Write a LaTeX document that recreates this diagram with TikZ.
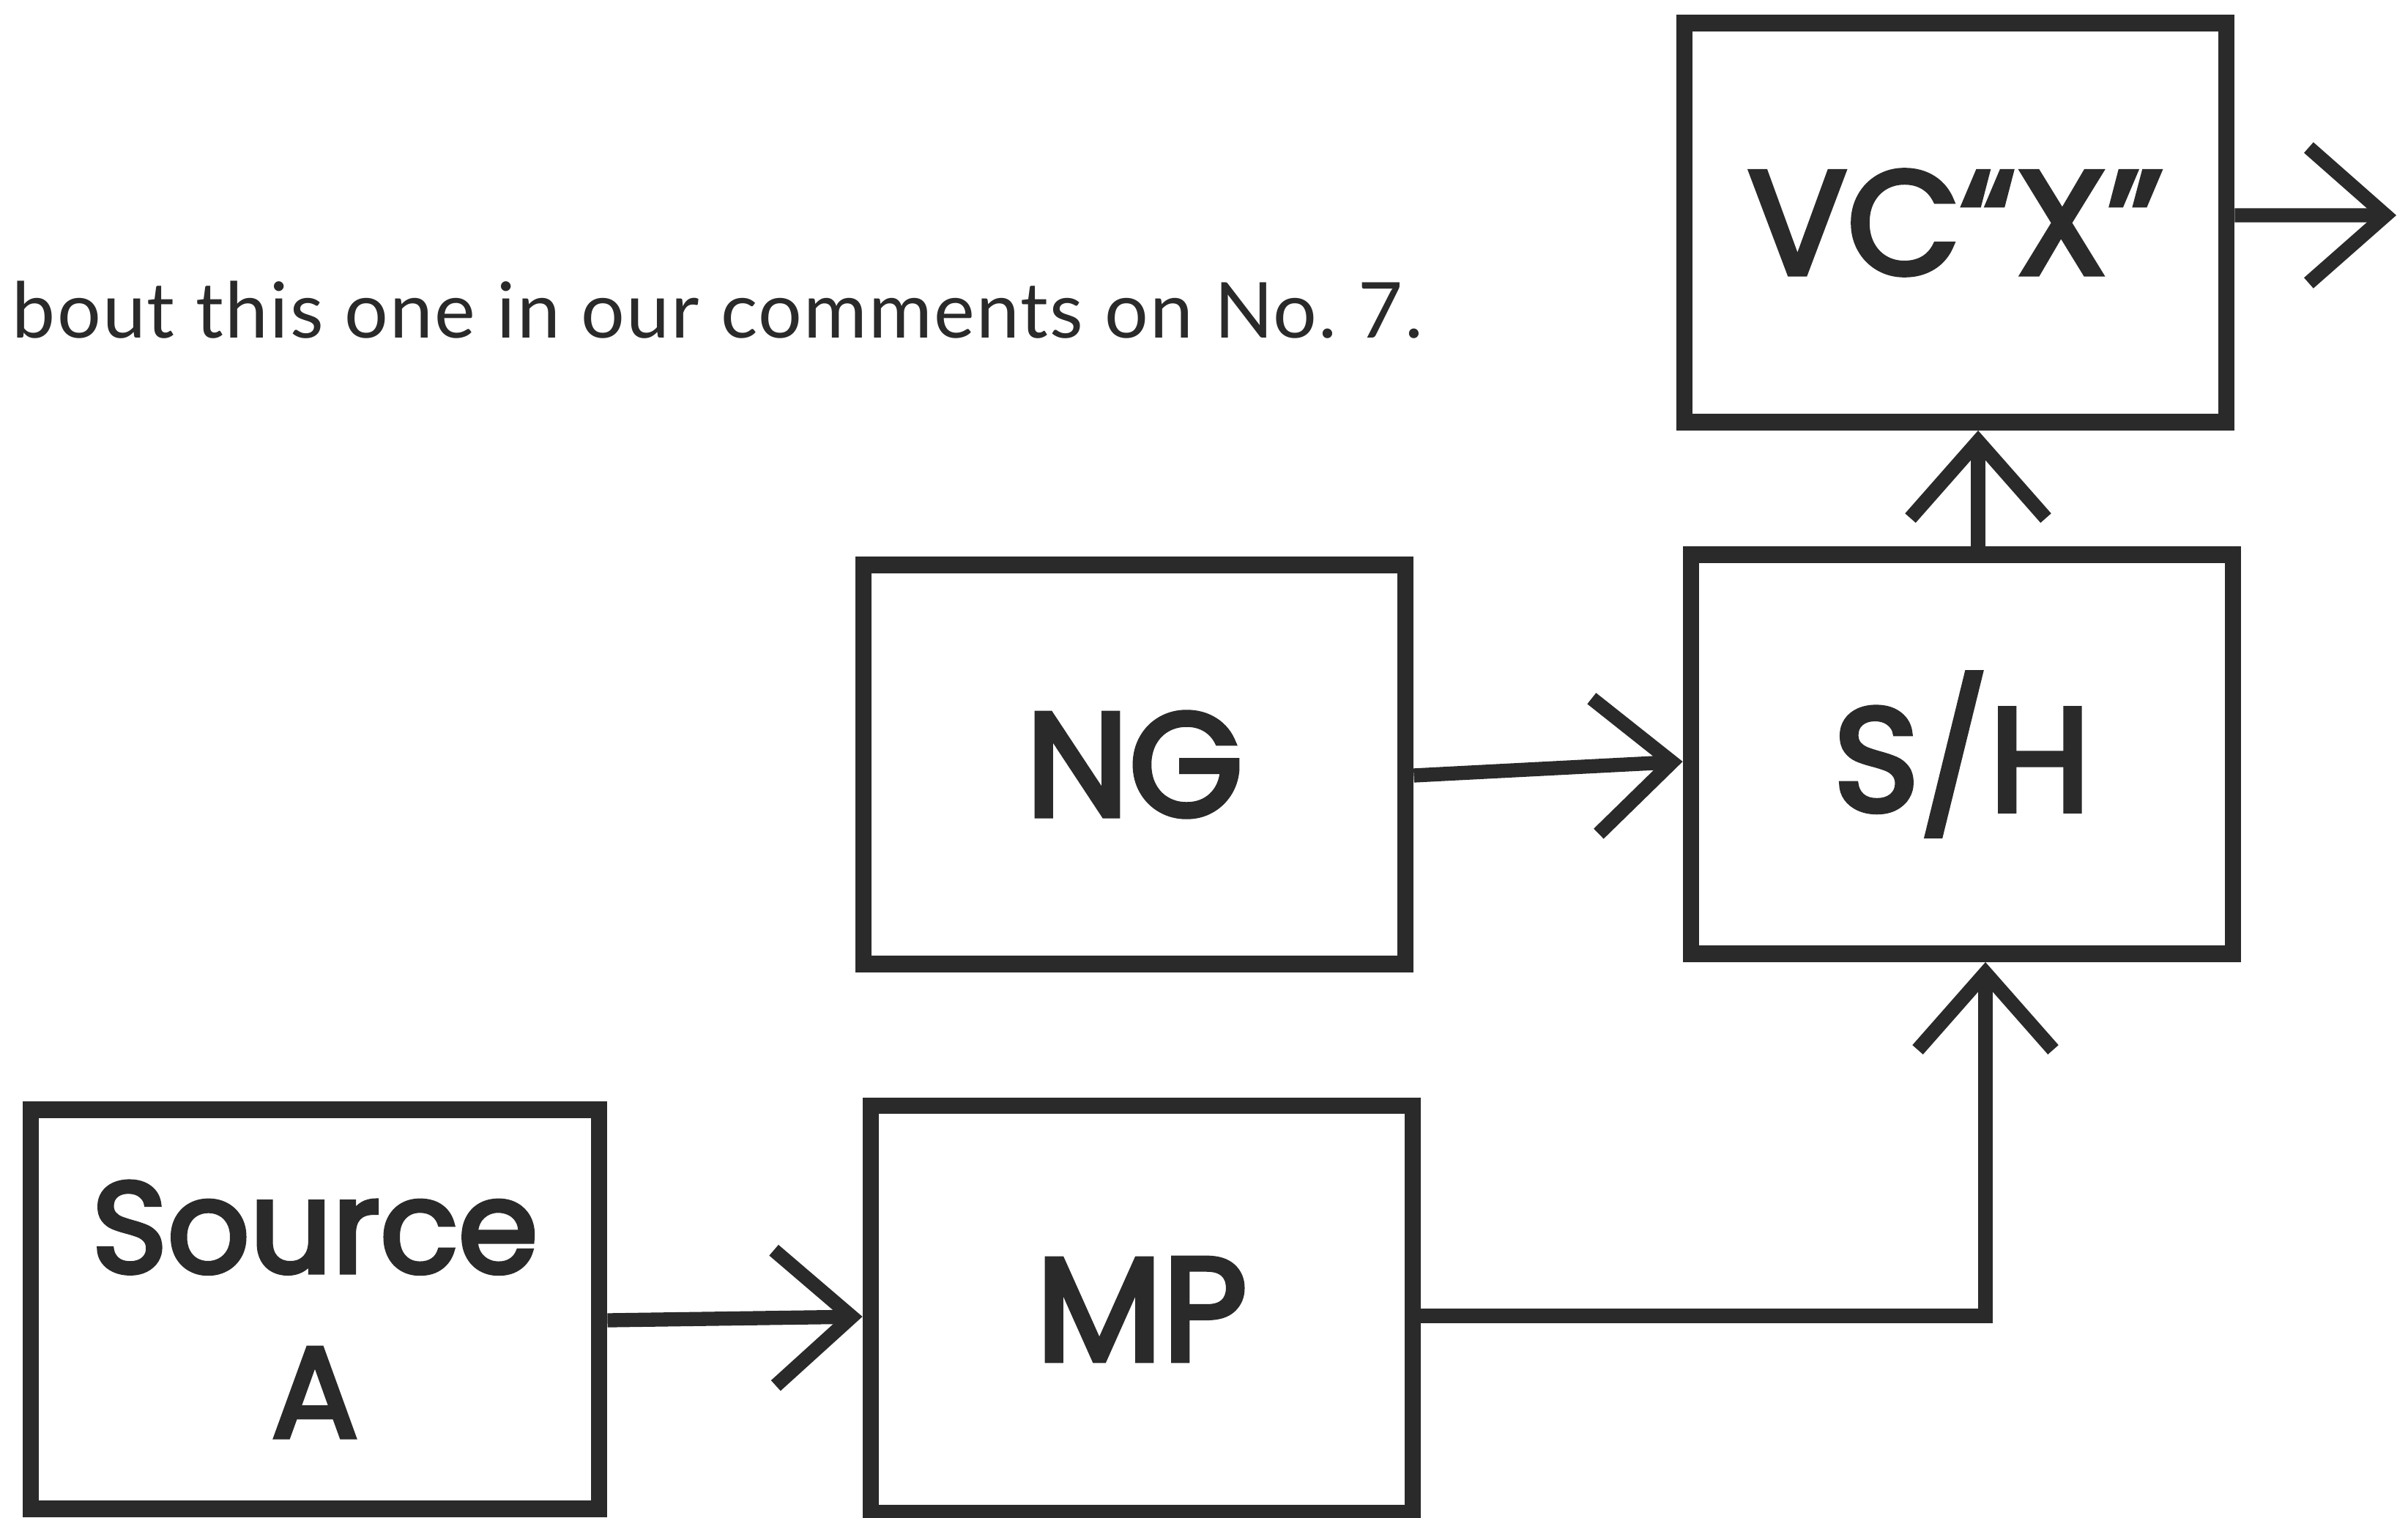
\documentclass[tikz,border=0pt]{standalone}
\usepackage{fontspec}
\usepackage{tikz}
\usetikzlibrary{positioning,arrows.meta,calc}
\newfontfamily\handfont[FakeBold=3.5]{Poppins}
\newfontfamily\notefont[LetterSpace=2]{Lato}
\definecolor{InkDark}{HTML}{2A2A2A}

\begin{document}
\begin{tikzpicture}[
  every node/.style={text=InkDark},
  BX/.style={draw=InkDark, line width=6.5pt, minimum width=7.4cm, minimum height=5.45cm,
             inner sep=0pt, align=center, font=\handfont\fontsize{57}{58}\selectfont},
  ar/.style={-{Straight Barb[length=1.05cm,width=1.85cm,line width=5.5pt]}, line width=5.5pt, InkDark},
]
  \useasboundingbox (0,0) rectangle (32.88,-20.73);
  \clip (0,0) rectangle (32.88,-20.73);

  % Note line
  \node[font=\notefont\fontsize{30}{32}\selectfont, anchor=base east] (note) at (19.55,-4.62)
    {bout this one in our comments on No.~7.};

  % Boxes
  \node[BX] (vc) at (26.70,-3.04) {VC“X”};
  \node[BX] (sh) at (26.79,-10.30) {S/H};
  \node[BX] (ng) at (15.49,-10.44) {NG};
  \node[BX, minimum width=7.76cm, font=\handfont\fontsize{50}{64}\selectfont]
    (src) at (4.30,-17.88) {Source\\A};
  \node[BX, minimum height=5.56cm] (mp) at (15.59,-17.88) {MP};

  % Output
  \coordinate (out) at (32.72,-2.94);

  % Connectors
  \draw[ar] ([yshift=1mm]vc.east) -- (out);
  \draw[ar] ([xshift=2.2mm]sh.north) -- ([xshift=2.2mm]sh.north |- vc.south);
  \draw[ar] ([yshift=-1.5mm]ng.east) -- ([yshift=-1mm]sh.west);
  \draw[ar] ([yshift=-1.5mm]src.east) -- ([yshift=-1mm]mp.west);
  \draw[ar] ([yshift=-0.9mm]mp.east) -| ([xshift=3.2mm]sh.south);
\end{tikzpicture}
\end{document}
